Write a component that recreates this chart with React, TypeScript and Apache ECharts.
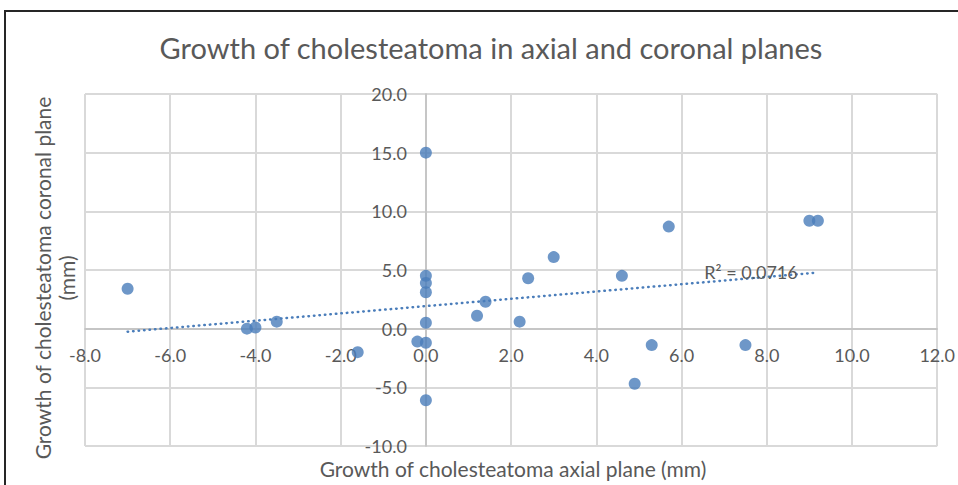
import React, { useEffect, useRef } from "react";
import * as echarts from "echarts";

const axialGrowth = [-7.0, -4.2, -4.0, -3.5, -1.6, -0.2, 0, 0, 0, 0, 0, 0, 0, 1.2, 1.4, 2.2, 2.4, 3.0, 4.6, 5.7, 5.3, 4.9, 7.5, 9.0, 9.2];
const coronalGrowth = [3.4, 0.0, 0.1, 0.6, -2.0, -1.1, -1.2, 15.0, 4.5, 3.9, 3.1, 0.5, -6.1, 1.1, 2.3, 0.6, 4.3, 6.1, 4.5, 8.7, -1.4, -4.7, -1.4, 9.2, 9.2];
const r2Label = "R² = 0.0716";
const r2LabelAt = [7.63, 4.83];
const titleText = "Growth of cholesteatoma in axial and coronal planes";
const xTitle = "Growth of cholesteatoma axial plane (mm)";
const yTitle = "Growth of cholesteatoma coronal plane\n(mm)";

function regression(xs: number[], ys: number[]) {
  const n = xs.length;
  const mx = xs.reduce((a, b) => a + b, 0) / n;
  const my = ys.reduce((a, b) => a + b, 0) / n;
  let sxy = 0, sxx = 0;
  for (let i = 0; i < n; i++) {
    sxy += (xs[i] - mx) * (ys[i] - my);
    sxx += (xs[i] - mx) * (xs[i] - mx);
  }
  const slope = sxy / sxx;
  return { slope, intercept: my - slope * mx };
}

export default function App() {
  const ref = useRef<HTMLDivElement>(null);
  useEffect(() => {
    if (!ref.current) return;
    const chart = echarts.init(ref.current, null, { renderer: "svg" });
    const { slope, intercept } = regression(axialGrowth, coronalGrowth);
    const x0 = Math.min(...axialGrowth);
    const x1 = Math.max(...axialGrowth);
    const trend = [[x0, intercept + slope * x0], [x1, intercept + slope * x1]];
    const color = "#4A7DBA";
    const textColor = "#595959";
    const font = "Lato, 'Open Sans', sans-serif";
    const grid = { left: 85, right: 17, top: 94, bottom: 39 };
    chart.setOption({
      animation: false,
      textStyle: { fontFamily: font },
      grid,
      graphic: [
        {
          type: "polyline",
          shape: { points: [[5, 485], [5, 11], [958, 11]] },
          style: { stroke: "#262626", lineWidth: 2, fill: null },
          silent: true,
        },
        {
          type: "text",
          x: 491,
          y: 47,
          style: { text: titleText, align: "center", verticalAlign: "middle", fill: textColor, font: `29px ${font}` },
        },
        {
          type: "text",
          x: 513,
          y: 468,
          style: { text: xTitle, align: "center", verticalAlign: "middle", fill: textColor, font: `21px ${font}` },
        },
        {
          type: "text",
          x: 54,
          y: 278,
          rotation: Math.PI / 2,
          style: { text: yTitle, align: "center", verticalAlign: "middle", fill: textColor, font: `21px ${font}`, lineHeight: 24 },
        },
      ],
      xAxis: {
        type: "value",
        min: -8,
        max: 12,
        interval: 2,
        axisLine: { onZero: false, lineStyle: { color: "#bfbfbf", width: 1.5 } },
        axisTick: { show: false },
        axisLabel: { color: textColor, fontSize: 18, margin: 17, formatter: (v: number) => v.toFixed(1) },
        splitLine: { show: true, lineStyle: { color: "#d9d9d9", width: 2 } },
      },
      yAxis: {
        type: "value",
        min: -10,
        max: 20,
        interval: 5,
        axisLine: { onZero: false, lineStyle: { color: "#bfbfbf", width: 1.5 } },
        axisTick: { show: false },
        axisLabel: { color: textColor, fontSize: 18, margin: 19, formatter: (v: number) => v.toFixed(1) },
        splitLine: { show: true, lineStyle: { color: "#d9d9d9", width: 2 } },
      },
      series: [
        {
          type: "scatter",
          data: axialGrowth.map((x, i) => [x, coronalGrowth[i]]),
          symbolSize: 12,
          itemStyle: { color },
          z: 3,
        },
        {
          type: "line",
          data: trend,
          showSymbol: false,
          symbol: "none",
          lineStyle: { color, width: 2.5, type: [0.5, 5], cap: "round" },
          z: 4,
          markPoint: {
            symbol: "circle",
            symbolSize: 0,
            data: [{ coord: r2LabelAt }],
            label: { show: true, position: "inside", formatter: r2Label, color: textColor, fontSize: 18, fontFamily: font },
          },
        },
      ],
    });
    // Place axes so that they cross at the origin (x = 0, y = 0)
    const origin = chart.convertToPixel({ gridIndex: 0 }, [0, 0]) as number[];
    const h = ref.current.clientHeight;
    const bottomEdge = h - grid.bottom;
    chart.setOption({
      xAxis: { offset: origin[1] - bottomEdge },
      yAxis: { offset: grid.left - origin[0] },
    });
    return () => chart.dispose();
  }, []);
  return <div ref={ref} style={{ position: "fixed", left: 0, top: 0, width: 958, height: 485, background: "#fff" }} />;
}
